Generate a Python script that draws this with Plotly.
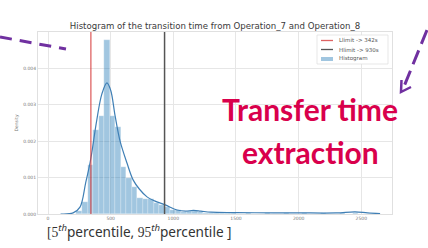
import math
import plotly.graph_objects as go

# ---- data ----
bin_edges = [227, 271, 315, 359, 403, 447, 491, 535, 579, 623, 667, 711, 755, 799,
             843, 887, 931, 975, 1019, 1063, 1107, 1151, 1195, 1239, 1283, 1327,
             1371, 1415, 1459, 1503]
bin_density = [0.00008, 0.00033, 0.00134, 0.0023, 0.0027, 0.00477, 0.0027, 0.0024,
               0.0013, 0.0010, 0.00075, 0.00045, 0.00042, 0.0004, 0.0003, 0.00025,
               0.0002, 0.00012, 0.0001, 0.00006, 0.00008, 0.00008, 0.00005, 0.00004,
               0.00003, 0.00003, 0.00002, 0.00003, 0.00002]

tail_x = [1600, 1750, 1900, 2050, 2200, 2350, 2450]
tail_density = [0.00002, 0.00002, 0.00002, 0.00002, 0.00002, 0.00003, 0.00004]

kde_x = [100, 200, 255, 300, 335, 350, 390, 430, 470, 500, 535, 575, 630, 680, 730,
         790, 850, 935, 1030, 1100, 1160, 1220, 1300, 1500, 1800, 2000, 2300, 2450,
         2550, 2650]
kde_y = [0.0, 0.00003, 0.00019, 0.00085, 0.0014, 0.0017, 0.0026, 0.0033, 0.0036,
         0.0034, 0.0027, 0.0020, 0.0014, 0.00093, 0.00068, 0.00047, 0.00036, 0.00025,
         0.00011, 0.00008, 0.0001, 0.00008, 0.00005, 0.00004, 0.00003, 0.00003,
         0.00003, 0.00006, 0.00003, 0.00001]

llimit = 342
hlimit = 930
x_ticks = [0, 500, 1000, 1500, 2000, 2500]
y_ticks = [0.000, 0.001, 0.002, 0.003, 0.004]

title = "Histogram of the transition time from Operation_7 and Operation_8"
legend_labels = ["Llimit -> 342s", "Hlimit -> 930s", "Histogram"]

# ---- geometry helpers (pixels -> paper) ----
W, H = 428, 248
ML, MR, MT, MB = 38, 36, 32, 34
PW, PH = W - ML - MR, H - MT - MB


def px(x):
    return (x - ML) / PW


def py(y):
    return (H - MB - y) / PH


RED = "rgba(214,60,60,0.8)"
DARK = "#555555"
BARC = "rgba(31,119,180,0.42)"

centers = [(a + b) / 2 for a, b in zip(bin_edges[:-1], bin_edges[1:])]
widths = [b - a for a, b in zip(bin_edges[:-1], bin_edges[1:])]
tail_w = [40] * len(tail_x)

fig = go.Figure()
fig.add_trace(go.Bar(
    x=centers + tail_x, y=bin_density + tail_density, width=widths + tail_w,
    marker=dict(color=BARC, line=dict(color="rgba(255,255,255,0.6)", width=0.4)),
    name=legend_labels[2], showlegend=False))
fig.add_trace(go.Scatter(
    x=kde_x, y=kde_y, mode="lines", line=dict(color="#3f7fb5", width=1.2, shape="spline"),
    showlegend=False))
fig.add_trace(go.Scatter(
    x=[llimit, llimit], y=[0, 0.005], mode="lines",
    line=dict(color=RED, width=1.3), name=legend_labels[0], showlegend=False))
fig.add_trace(go.Scatter(
    x=[hlimit, hlimit], y=[0, 0.005], mode="lines",
    line=dict(color=DARK, width=1.5), name=legend_labels[1], showlegend=False))

purple = "#7030a0"
shapes = [
    dict(type="line", xref="paper", yref="paper", x0=px(0), y0=py(37), x1=px(66), y1=py(49),
         line=dict(color=purple, width=3, dash="12px,8px")),
    dict(type="line", xref="paper", yref="paper", x0=px(427), y0=py(30), x1=px(403), y1=py(89),
         line=dict(color=purple, width=3, dash="15px,7px")),
    dict(type="path", xref="paper", yref="paper",
         path=f"M {px(401.5)},{py(80)} L {px(401)},{py(92)} L {px(411)},{py(87)}",
         line=dict(color=purple, width=2.5)),
]

# manual legend (box, samples)
shapes.append(dict(type="rect", xref="paper", yref="paper", x0=px(317), x1=px(388),
                   y0=py(35), y1=py(64), line=dict(color="#dddddd", width=0.7),
                   fillcolor="white", layer="above"))
shapes.append(dict(type="line", xref="paper", yref="paper", x0=px(321), x1=px(333),
                   y0=py(40.5), y1=py(40.5), line=dict(color=RED, width=1.3)))
shapes.append(dict(type="line", xref="paper", yref="paper", x0=px(321), x1=px(333),
                   y0=py(49.5), y1=py(49.5), line=dict(color=DARK, width=1.3)))
shapes.append(dict(type="rect", xref="paper", yref="paper", x0=px(321), x1=px(333),
                   y0=py(57), y1=py(61), line=dict(width=0), fillcolor=BARC))

annotations = []
for i, lab in enumerate(legend_labels):
    annotations.append(dict(text=lab, x=px(338), y=py(40.5 + 9 * i), xref="paper", yref="paper",
                            showarrow=False, xanchor="left", yanchor="middle",
                            borderpad=0,
                            font=dict(family="DejaVu Sans", size=5.5, color="#555555")))

annotations += [
    dict(text="Transfer time", x=px(310), y=py(109), xref="paper", yref="paper",
         showarrow=False, xanchor="center", yanchor="middle",
         font=dict(family="Lato", size=30, color="#d9004c", weight="bold")),
    dict(text="extraction", x=px(310), y=py(152), xref="paper", yref="paper",
         showarrow=False, xanchor="center", yanchor="middle",
         font=dict(family="Lato", size=30, color="#d9004c", weight="bold")),
    dict(text="<span style='font-family:Liberation Serif'>[5</span><sup><i>th</i></sup>percentile, "
              "<span style='font-family:Liberation Serif'>95</span><sup><i>th</i></sup>percentile ]",
         x=px(46), y=py(231), xref="paper", yref="paper", showarrow=False,
         xanchor="left", yanchor="middle", borderpad=0,
         font=dict(family="Noto Sans", size=13.6, color="#333333")),
]

fig.update_layout(
    width=W, height=H,
    margin=dict(l=ML, r=MR, t=MT, b=MB),
    paper_bgcolor="white", plot_bgcolor="white",
    bargap=0, showlegend=False,
    title=dict(text=title, x=0.5, xref="paper", y=1 - 26 / H, yanchor="middle",
               font=dict(family="DejaVu Sans", size=8.6, color="#3a3a3a")),
    xaxis=dict(range=[-80, 2745], tickvals=x_ticks, ticktext=[str(v) for v in x_ticks],
               automargin=False,
               showgrid=True, gridcolor="#e6e6e6", gridwidth=1, zeroline=False,
               showline=True, linecolor="#e0e0e0", mirror=True, ticks="",
               tickfont=dict(family="DejaVu Sans", size=4.5, color="#777777")),
    yaxis=dict(range=[0, 0.005], tickvals=y_ticks, tickformat=".3f",
               automargin=False,
               showgrid=True, gridcolor="#e6e6e6", gridwidth=1, zeroline=False,
               showline=True, linecolor="#e0e0e0", mirror=True, ticks="",
               title=dict(text="Density", standoff=4,
                          font=dict(family="DejaVu Sans", size=4.5, color="#777777")),
               tickfont=dict(family="DejaVu Sans", size=4.5, color="#777777")),
    shapes=shapes, annotations=annotations,
)

fig.write_html("out.html", config={"displayModeBar": False},
               post_script="document.body.style.margin='0';"
                           "document.body.style.padding='0';"
                           "document.body.style.overflow='hidden';")
